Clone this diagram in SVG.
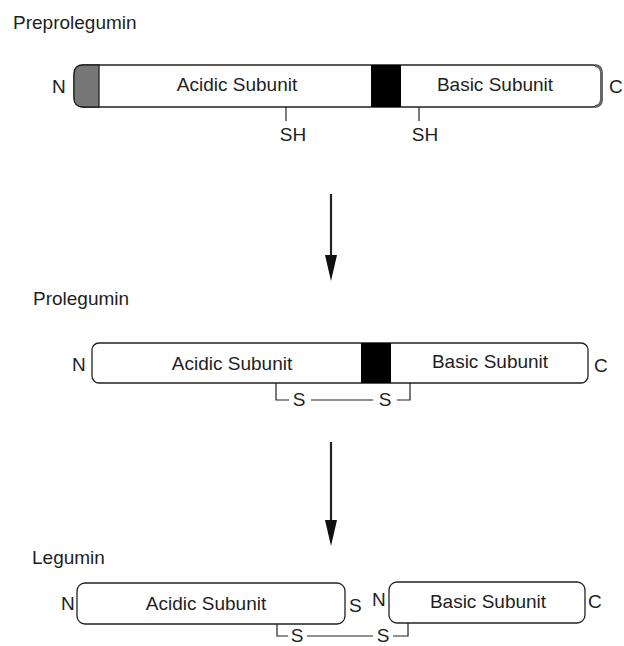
<svg xmlns="http://www.w3.org/2000/svg" width="624" height="646" viewBox="0 0 624 646">
<style>
text{font-family:"Liberation Sans",Arial,sans-serif;fill:#1e1e1e;font-size:19px}
.m{text-anchor:middle}
.bar{fill:#fff;stroke:#222;stroke-width:1.3}
.ln{fill:none;stroke:#222;stroke-width:1.2}
.ar{stroke:#222;stroke-width:2.2}
</style>
<defs>
<marker id="ah" viewBox="0 0 26 12" refX="25" refY="6" markerWidth="26" markerHeight="12" markerUnits="userSpaceOnUse" orient="auto">
<path d="M0,0 L26,6 L0,12 Z" fill="#111"/>
</marker>
</defs>
<rect width="624" height="646" fill="#fff"/>

<g id="preprolegumin">
<text x="13" y="29">Preprolegumin</text>
<text x="52" y="93">N</text>
<rect class="bar" x="74" y="65" width="528" height="42" rx="9"/>
<path d="M99,65 L83,65 Q74,65 74,74 L74,98 Q74,107 83,107 L99,107 Z" fill="#777" stroke="#222" stroke-width="1.3"/>
<rect x="371" y="65" width="30" height="42" fill="#000"/>
<path d="M595,65.5 Q601.5,66 601.5,73 L601.5,99 Q601.5,106 595,106.5" fill="none" stroke="#666" stroke-width="3"/>
<text class="m" x="237" y="91">Acidic Subunit</text>
<text class="m" x="495" y="91">Basic Subunit</text>
<text x="609" y="93">C</text>
<line class="ln" x1="286" y1="107" x2="286" y2="121"/>
<line class="ln" x1="419" y1="107" x2="419" y2="121"/>
<text class="m" x="293" y="141">SH</text>
<text class="m" x="425" y="141">SH</text>
</g>

<g id="prolegumin">
<text x="33" y="305">Prolegumin</text>
<text x="72" y="371">N</text>
<rect class="bar" x="92" y="343" width="496" height="40" rx="7"/>
<rect x="361" y="343" width="30" height="40" fill="#000"/>
<text class="m" x="232" y="370">Acidic Subunit</text>
<text class="m" x="490" y="368">Basic Subunit</text>
<text x="594" y="372">C</text>
<text class="m" x="299" y="406">S</text>
<text class="m" x="385" y="406">S</text>
</g>

<g id="legumin">
<text x="32" y="564">Legumin</text>
<text x="61" y="610">N</text>
<rect class="bar" x="77" y="583" width="268" height="41" rx="8"/>
<text class="m" x="206" y="610">Acidic Subunit</text>
<text x="349" y="612">S</text>
<text x="372" y="606">N</text>
<rect class="bar" x="389" y="582" width="196" height="41" rx="8"/>
<text class="m" x="488" y="608">Basic Subunit</text>
<text x="588" y="608">C</text>
<text class="m" x="297" y="642" font-size="18">S</text>
<text class="m" x="383" y="642" font-size="18">S</text>
</g>

<g id="connectors">
<line class="ar" x1="331" y1="194" x2="331" y2="256"/>
<line class="ar" x1="331" y1="194" x2="331" y2="280" stroke-opacity="0" marker-end="url(#ah)"/>
<line class="ar" x1="331" y1="442" x2="331" y2="524"/>
<line class="ar" x1="331" y1="442" x2="331" y2="545" stroke-opacity="0" marker-end="url(#ah)"/>
<path class="ln" d="M276,383 L276,400 L289,400 M311,400 L373,400 M397,400 L410,400 L410,383"/>
<path class="ln" d="M277,624 L277,636 L288,636 M307,636 L373,636 M393,636 L408,636 L408,623"/>
</g>
</svg>
